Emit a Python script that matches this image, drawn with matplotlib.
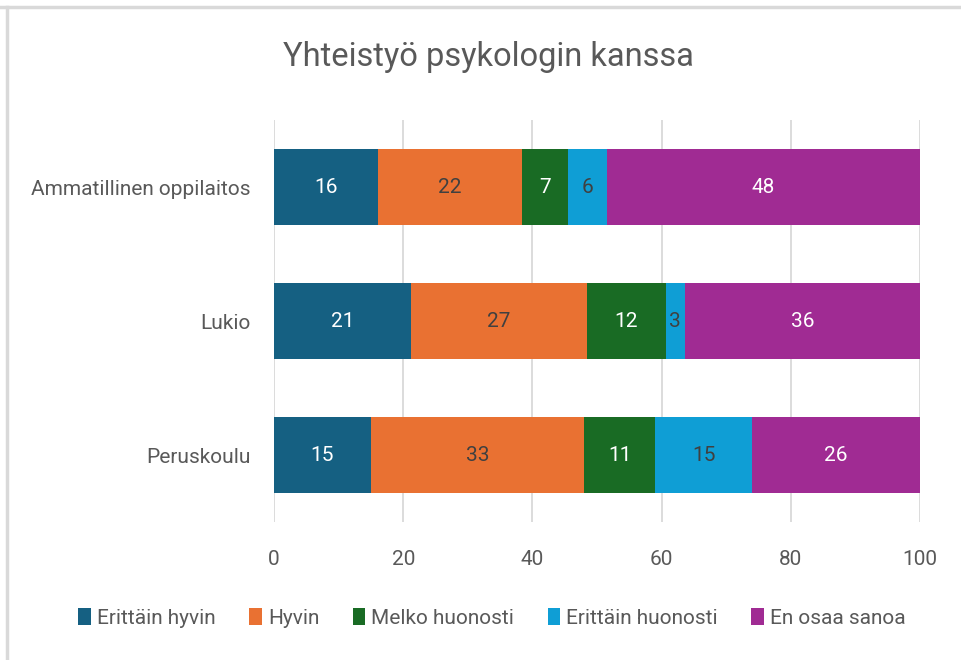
import numpy as np
import matplotlib.pyplot as plt
from matplotlib.lines import Line2D

# Yhteistyö psykologin kanssa - 100 % stacked horizontal bars

plt.rcParams['font.family'] = ['Roboto', 'DejaVu Sans']

categories = ["Ammatillinen oppilaitos", "Lukio", "Peruskoulu"]
series_names = ["Erittäin hyvin", "Hyvin", "Melko huonosti", "Erittäin huonosti", "En osaa sanoa"]

erittain_hyvin = [16, 21, 15]
hyvin = [22, 27, 33]
melko_huonosti = [7, 12, 11]
erittain_huonosti = [6, 3, 15]
en_osaa_sanoa = [48, 36, 26]

colors = ["#156082", "#E97132", "#196B24", "#0F9ED5", "#A02B93"]
label_colors = ["white", "#404040", "white", "#404040", "white"]

TEXT = "#595959"

series = np.array([erittain_hyvin, hyvin, melko_huonosti, erittain_huonosti, en_osaa_sanoa], dtype=float)
totals = series.sum(axis=0)
shares = series / totals * 100  # chart is a 100 % stacked bar

fig = plt.figure(figsize=(9.61, 6.6), dpi=100)
ax = fig.add_axes([274 / 961, 1 - 522 / 660, (920 - 274) / 961, (522 - 120) / 660])

y = np.arange(len(categories))
left = np.zeros(len(categories))
for i, name in enumerate(series_names):
    bars = ax.barh(y, shares[i], left=left, height=0.56, color=colors[i], label=name, zorder=3)
    for j, b in enumerate(bars):
        ax.text(left[j] + shares[i][j] / 2, y[j], f"{int(series[i][j])}",
                ha="center", va="center", fontsize=15, color=label_colors[i], zorder=4)
    left += shares[i]

ax.set_ylim(len(categories) - 0.5, -0.5)
ax.set_xlim(0, 100)
ax.set_yticks(y)
ax.set_yticklabels(categories)
ax.set_xticks([0, 20, 40, 60, 80, 100])

ax.grid(axis="x", color="#d9d9d9", linewidth=1.3, zorder=0)
for s in ax.spines.values():
    s.set_visible(False)
ax.tick_params(axis="both", length=0, labelsize=15, colors=TEXT)
ax.tick_params(axis="x", pad=20)
ax.tick_params(axis="y", pad=17)

fig.text(488 / 961, 1 - 57 / 660, "Yhteistyö psykologin kanssa", ha="center", va="center",
         fontsize=23.5, color=TEXT)

leg = fig.legend(loc="center", bbox_to_anchor=(492 / 961, 1 - 618 / 660), ncol=5, frameon=False,
                 fontsize=15, handlelength=0.6, handleheight=0.9, handletextpad=0.3,
                 columnspacing=1.6, labelcolor=TEXT)

# light frame from the screenshot (top and left edges)
fig.add_artist(Line2D([0, 1], [1 - 7 / 660] * 2, color="#d9d9d9", lw=2.5, transform=fig.transFigure))
fig.add_artist(Line2D([6.5 / 961] * 2, [0, 1 - 7 / 660], color="#d9d9d9", lw=2.5, transform=fig.transFigure))

fig.savefig("out.png", dpi=100)
